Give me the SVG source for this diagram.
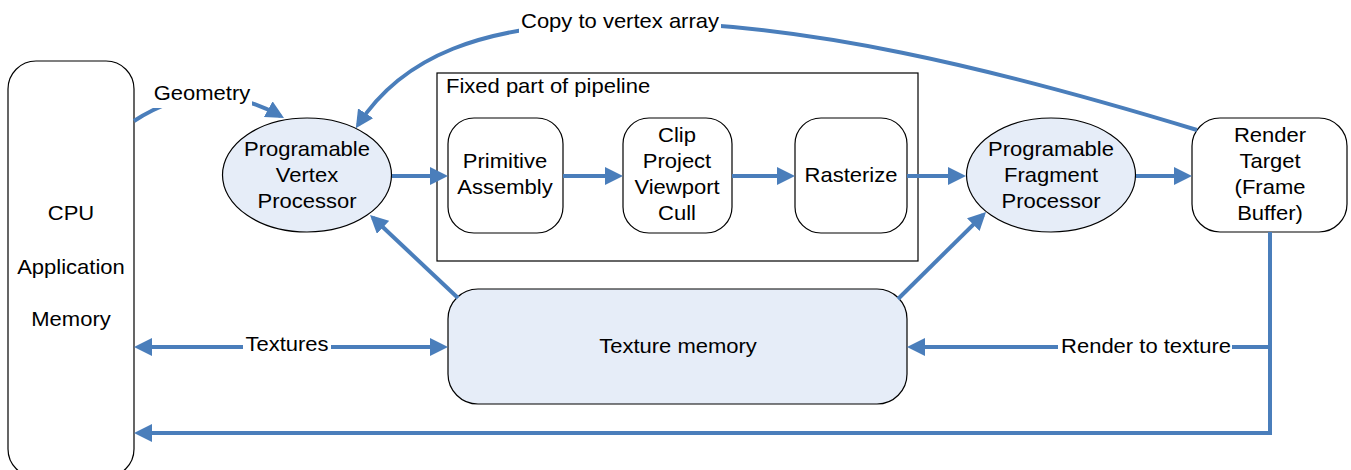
<svg xmlns="http://www.w3.org/2000/svg" width="1351" height="470" viewBox="0 0 1351 470">
<style>
.t{font-family:"Liberation Sans",Arial,sans-serif;font-size:20px;fill:#000;text-anchor:middle}
.ts{font-family:"Liberation Sans",Arial,sans-serif;font-size:20px;fill:#000;text-anchor:start}
.box{fill:#fff;stroke:#000;stroke-width:1.2}
.blue{fill:#e6edf8;stroke:#000;stroke-width:1.2}
.c{fill:none;stroke:#4a7ebb;stroke-width:4}
.a{marker-end:url(#ah)}
.lbl{fill:#fff;stroke:none}
</style>
<defs>
<marker id="ah" viewBox="0 0 18 18" refX="14" refY="9" markerWidth="18" markerHeight="18" markerUnits="userSpaceOnUse" orient="auto-start-reverse">
<path d="M0,0 L18,9 L0,18 z" fill="#4a7ebb"/>
</marker>
</defs>
<rect width="1351" height="470" fill="#fff"/>

<g id="cpu">
<rect class="box" x="8" y="61" width="126" height="416" rx="28" ry="28"/>
<text class="t" transform="translate(71,220) scale(1.1,1)">CPU</text>
<text class="t" transform="translate(71,274) scale(1.1,1)">Application</text>
<text class="t" transform="translate(71,326) scale(1.1,1)">Memory</text>
</g>

<g id="fixed">
<rect x="437" y="73" width="481" height="188" fill="none" stroke="#000" stroke-width="1.2"/>
<text class="ts" transform="translate(446,93) scale(1.1,1)">Fixed part of pipeline</text>
</g>

<g id="vertex">
<ellipse class="blue" cx="307" cy="175" rx="84.5" ry="57"/>
<text class="t" transform="translate(307,156) scale(1.1,1)">Programable</text>
<text class="t" transform="translate(307,182) scale(1.1,1)">Vertex</text>
<text class="t" transform="translate(307,208) scale(1.1,1)">Processor</text>
</g>

<g id="primitive">
<rect class="box" x="448" y="118" width="115" height="115" rx="26" ry="26"/>
<text class="t" transform="translate(505,168) scale(1.1,1)">Primitive</text>
<text class="t" transform="translate(505,194) scale(1.1,1)">Assembly</text>
</g>

<g id="clip">
<rect class="box" x="623" y="118" width="109" height="115" rx="26" ry="26"/>
<text class="t" transform="translate(677,142) scale(1.1,1)">Clip</text>
<text class="t" transform="translate(677,168) scale(1.1,1)">Project</text>
<text class="t" transform="translate(677,194) scale(1.1,1)">Viewport</text>
<text class="t" transform="translate(677,220) scale(1.1,1)">Cull</text>
</g>

<g id="rasterize">
<rect class="box" x="795" y="118" width="112" height="115" rx="26" ry="26"/>
<text class="t" transform="translate(851,182) scale(1.1,1)">Rasterize</text>
</g>

<g id="fragment">
<ellipse class="blue" cx="1051" cy="175" rx="84.5" ry="57"/>
<text class="t" transform="translate(1051,156) scale(1.1,1)">Programable</text>
<text class="t" transform="translate(1051,182) scale(1.1,1)">Fragment</text>
<text class="t" transform="translate(1051,208) scale(1.1,1)">Processor</text>
</g>

<g id="render">
<rect class="box" x="1192" y="118" width="155" height="114" rx="28" ry="28"/>
<text class="t" transform="translate(1270,142) scale(1.1,1)">Render</text>
<text class="t" transform="translate(1270,168) scale(1.1,1)">Target</text>
<text class="t" transform="translate(1270,194) scale(1.1,1)">(Frame</text>
<text class="t" transform="translate(1270,220) scale(1.1,1)">Buffer)</text>
</g>

<g id="texmem">
<rect class="blue" x="448" y="289" width="459" height="115" rx="30" ry="30"/>
<text class="t" transform="translate(678,353) scale(1.1,1)">Texture memory</text>
</g>

<g id="connectors">
<path class="c a" d="M134,121 Q205,74 280.5,116"/>
<path class="c a" d="M1197,130 C1000,70 800,20 620,22 C480,24 402,57 358,125"/>
<path class="c a" d="M392,176 H444"/>
<path class="c a" d="M563,176 H619"/>
<path class="c a" d="M732,176 H791"/>
<path class="c a" d="M907,176 H962"/>
<path class="c a" d="M1136,176 H1188"/>
<path class="c a" d="M458,298 L372.9,217.7"/>
<path class="c a" d="M898,299 L983.2,214.8"/>
<path class="c a" d="M138,347 H444" marker-start="url(#ah)"/>
<path class="c a" d="M1270,232 V433 H138"/>
<path class="c a" d="M1270,347 H911"/>

<rect class="lbl" x="152" y="82" width="100" height="26"/>
<text class="t" transform="translate(202,100) scale(1.1,1)">Geometry</text>
<rect class="lbl" x="519" y="8" width="202" height="26"/>
<text class="t" transform="translate(620,28) scale(1.1,1)">Copy to vertex array</text>
<rect class="lbl" x="243" y="333" width="88" height="24"/>
<text class="t" transform="translate(287,351) scale(1.1,1)">Textures</text>
<rect class="lbl" x="1058" y="335" width="174" height="24"/>
<text class="t" transform="translate(1146,353) scale(1.1,1)">Render to texture</text>
</g>
</svg>
